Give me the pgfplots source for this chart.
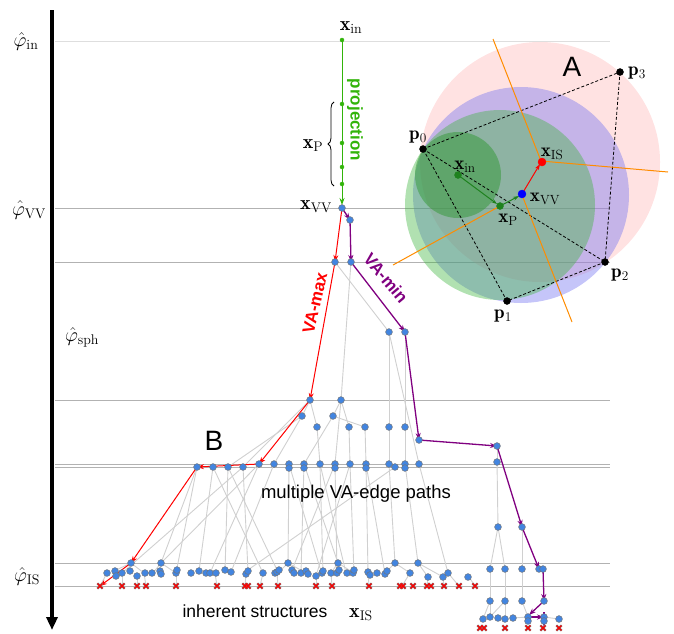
\RequirePackage{fix-cm}
\documentclass[border=0pt]{standalone}
\usepackage{pgfplots}
\pgfplotsset{compat=1.18}
\usepackage{fontspec}
\setsansfont{Liberation Sans}
\usetikzlibrary{arrows.meta,decorations.pathreplacing}
\definecolor{nodeblue}{RGB}{66,133,224}
\definecolor{edgegray}{RGB}{208,208,208}
\definecolor{hline}{RGB}{178,178,178}
\definecolor{vamin}{RGB}{128,0,128}
\definecolor{projgreen}{RGB}{50,180,10}
\definecolor{orng}{RGB}{255,140,0}
\definecolor{pinkc}{RGB}{255,160,160}
\definecolor{bluec}{RGB}{110,110,240}
\definecolor{greenc}{RGB}{60,180,60}
\definecolor{dgreenc}{RGB}{40,150,40}
\definecolor{ptgreen}{RGB}{30,130,30}
\newcommand{\e}[4]{\addplot[edgegray, line width=0.9pt] coordinates {(#1,#2)(#3,#4)};}
\newcommand{\ra}[4]{\addplot[red, line width=1pt, -{Stealth[length=7pt,width=5pt]}] coordinates {(#1,#2)(#3,#4)};}
\newcommand{\pa}[4]{\addplot[vamin, line width=1.3pt, -{Stealth[length=7pt,width=5pt]}] coordinates {(#1,#2)(#3,#4)};}
\newcommand{\hl}[2]{\addplot[#2, line width=1pt] coordinates {(55,#1)(610,#1)};}
\newcommand{\dl}[4]{\addplot[black, line width=0.8pt, dash pattern=on 3pt off 2pt] coordinates {(#1,#2)(#3,#4)};}
\newcommand{\ol}[4]{\addplot[orng, line width=1pt] coordinates {(#1,#2)(#3,#4)};}
\pgfplotsset{base/.style={x=1pt, y=1pt, y dir=reverse, xmin=0, xmax=674, ymin=0, ymax=633,
  hide axis, clip=false, at={(0,0)}, anchor=south west}}
\begin{document}
\begin{tikzpicture}
% ---------- layer 1: level lines and inset circles ----------
\begin{axis}[base]
\addplot[draw=none] coordinates {(0,0)(674,633)};
\hl{41}{black!13}
\hl{208}{hline}
\hl{262}{hline}
\hl{400}{hline}
\hl{464}{hline}
\hl{467}{hline}
\hl{563}{hline}
\hl{586}{hline}
\addplot[only marks, mark=*, mark size=120pt, mark options={fill=pinkc, fill opacity=0.3, draw opacity=0}] coordinates {(540,162)};
\addplot[only marks, mark=*, mark size=108pt, mark options={fill=bluec, fill opacity=0.4, draw opacity=0}] coordinates {(521,195)};
\addplot[only marks, mark=*, mark size=95pt, mark options={fill=greenc, fill opacity=0.4, draw opacity=0}] coordinates {(500,205)};
\addplot[only marks, mark=*, mark size=43pt, mark options={fill=dgreenc, fill opacity=0.45, draw opacity=0}] coordinates {(458,175)};
\end{axis}
% ---------- layer 2: everything else ----------
\begin{axis}[base]
\addplot[draw=none] coordinates {(0,0)(674,633)};
% dashed quadrilateral
\dl{423}{149}{620}{72}
\dl{620}{72}{605}{262}
\dl{605}{262}{507}{301}
\dl{507}{301}{423}{149}
\dl{423}{149}{605}{262}
% orange lines
\ol{493}{39}{541}{161}
\ol{541}{161}{668}{172}
\ol{522}{195}{572}{322}
\ol{500}{206}{393}{265}
% inset arrows
\addplot[ptgreen, line width=1pt, -{Stealth[length=6pt,width=4pt]}] coordinates {(458,175)(497,204)};
\addplot[ptgreen, line width=1pt, -{Stealth[length=6pt,width=4pt]}] coordinates {(500,206)(519,196)};
\addplot[red, line width=1pt, -{Stealth[length=6pt,width=4pt]}] coordinates {(522,194)(540,164)};
\addplot[only marks, mark=*, mark size=3.5pt, mark options={fill=black, draw=black}] coordinates {(423,149)(507,301)(605,262)(620,72)};
\addplot[only marks, mark=*, mark size=3.5pt, mark options={fill=ptgreen, draw=ptgreen}] coordinates {(458,175)(500,206)};
\addplot[only marks, mark=*, mark size=4pt, mark options={fill=blue, draw=blue}] coordinates {(522,194)};
\addplot[only marks, mark=*, mark size=4pt, mark options={fill=red, draw=red}] coordinates {(542,162)};
% left axis arrow
\addplot[black, line width=3.5pt, -{Triangle[length=13pt,width=11pt]}] coordinates {(52,10)(52,630)};
% projection
\addplot[projgreen, line width=1pt, -{Stealth[length=7pt,width=5pt]}] coordinates {(342,40)(342,205)};
\addplot[only marks, mark=*, mark size=2pt, mark options={fill=projgreen, draw=projgreen}] coordinates {(342,40)(342,104)(342,143)(342,167)(342,184)};
% gray tree edges
\e{342}{208}{350}{220}
\e{335}{262}{389}{332}
\e{351}{262}{341}{400}
\e{389}{332}{389}{427}
\e{405}{332}{405}{427}
\e{389}{332}{419}{464}
\e{310}{400}{302}{416}
\e{310}{400}{317}{427}
\e{310}{400}{243}{467}
\e{341}{400}{333}{416}
\e{341}{400}{349}{427}
\e{341}{400}{335}{464}
\e{302}{416}{274}{464}
\e{302}{416}{228}{467}
\e{333}{416}{365}{427}
\e{333}{416}{304}{464}
\e{317}{427}{320}{464}
\e{349}{427}{350}{464}
\e{365}{427}{366}{464}
\e{389}{427}{389}{464}
\e{405}{427}{405}{464}
\e{497}{446}{497}{462}
\e{497}{462}{498}{527}
\e{197}{467}{161}{563}
\e{197}{467}{176}{573}
\e{213}{467}{199}{571}
\e{213}{467}{263}{573}
\e{228}{467}{225}{571}
\e{228}{467}{278}{572}
\e{243}{467}{248}{571}
\e{243}{467}{122}{573}
\e{259}{464}{161}{563}
\e{259}{464}{210}{573}
\e{274}{464}{231}{572}
\e{289}{464}{288}{563}
\e{289}{464}{320}{568}
\e{304}{464}{338}{563}
\e{304}{464}{301}{573}
\e{320}{464}{323}{573}
\e{320}{464}{346}{573}
\e{335}{464}{337}{573}
\e{335}{464}{292}{570}
\e{350}{464}{354}{573}
\e{350}{464}{316}{576}
\e{366}{464}{368}{572}
\e{366}{464}{385}{574}
\e{389}{464}{395}{563}
\e{395}{467}{245}{572}
\e{405}{464}{418}{563}
\e{419}{464}{448}{573}
\e{498}{527}{490}{569}
\e{498}{527}{505}{569}
\e{522}{527}{522}{569}
\e{490}{569}{490}{601}
\e{505}{569}{505}{601}
\e{522}{569}{522}{601}
\e{490}{601}{490}{617}
\e{505}{601}{490}{617}
\e{505}{601}{505}{619}
\e{522}{601}{528}{617}
\e{490}{601}{483}{619}
\e{513}{618}{528}{617}
\e{544}{617}{559}{619}
\e{131}{563}{114}{571}
\e{131}{563}{144}{573}
\e{161}{563}{153}{573}
\e{161}{563}{176}{573}
\e{288}{563}{279}{572}
\e{288}{563}{306}{573}
\e{338}{563}{331}{573}
\e{338}{563}{354}{573}
\e{395}{563}{387}{571}
\e{395}{563}{410}{573}
\e{418}{563}{428}{577}
\e{418}{563}{443}{577}
\e{107}{573}{100}{586}
\e{122}{573}{122}{586}
\e{137}{576}{137}{586}
\e{144}{573}{146}{586}
\e{176}{576}{176}{586}
\e{215}{573}{217}{586}
\e{246}{574}{245}{586}
\e{263}{573}{260}{586}
\e{277}{572}{278}{586}
\e{316}{576}{316}{586}
\e{331}{573}{332}{586}
\e{368}{572}{369}{586}
\e{410}{573}{402}{586}
\e{428}{577}{427}{586}
\e{443}{577}{444}{586}
\e{448}{573}{459}{586}
\e{469}{577}{475}{586}
% VA-max path (red)
\ra{342}{208}{335}{262}
\ra{335}{262}{310}{400}
\ra{310}{400}{259}{464}
\ra{259}{464}{197}{467}
\ra{197}{467}{131}{563}
\ra{131}{563}{100}{586}
% VA-min path (purple)
\pa{342}{208}{350}{220}
\pa{350}{220}{351}{262}
\pa{351}{262}{405}{332}
\pa{405}{332}{419}{440}
\pa{419}{440}{497}{446}
\pa{497}{446}{522}{527}
\pa{522}{527}{539}{569}
\pa{543}{569}{544}{601}
\pa{544}{601}{529}{615}
\pa{530}{617}{544}{617}
\pa{544}{612}{544}{627}
% X markers (inherent structures)
\addplot[only marks, mark=x, mark size=3.8pt, mark options={draw=gray, line width=2.2pt}] coordinates {
(100,586)(122,586)(137,586)(146,586)(176,586)(217,586)(245,586)(248,586)(260,586)(278,586)
(316,586)(332,586)(369,586)(400,586)(403,586)(413,586)(427,586)(431,586)(444,586)(459,586)(475,586)
(480,628)(484,628)(505,628)(528,628)(543,628)(559,628)};
\addplot[only marks, mark=x, mark size=3.4pt, mark options={draw=red, line width=1.2pt}] coordinates {
(100,586)(122,586)(137,586)(146,586)(176,586)(217,586)(245,586)(248,586)(260,586)(278,586)
(316,586)(332,586)(369,586)(400,586)(403,586)(413,586)(427,586)(431,586)(444,586)(459,586)(475,586)
(480,628)(484,628)(505,628)(528,628)(543,628)(559,628)};
% blue nodes
\addplot[only marks, mark=*, mark size=3.4pt, mark options={fill=nodeblue, draw=black!55, line width=0.5pt}] coordinates {
(342,208)(350,220)(335,262)(351,262)(389,332)(405,332)(310,400)(341,400)
(302,416)(333,416)(317,427)(349,427)(365,427)(389,427)(405,427)(419,440)(497,446)
(197,467)(213,467)(228,467)(243,467)(259,464)(274,464)(289,464)(289,468)(304,464)(304,468)
(320,464)(335,464)(335,468)(350,464)(366,464)(366,468)(389,464)(395,467)(405,464)(405,468)(419,464)(497,462)
(131,563)(161,563)(288,563)(338,563)(395,563)(418,563)
(498,527)(522,527)(490,569)(505,569)(522,569)(539,569)(543,569)(490,601)(505,601)(522,601)(544,601)
(483,619)(490,617)(498,618)(505,619)(513,618)(528,617)(528,621)(544,617)(544,621)(559,619)
(107,573)(115,571)(116,576)(122,573)(130,571)(137,576)(145,573)(152,573)(160,571)(161,574)
(176,573)(177,570)(191,573)(199,571)(206,573)(210,573)(216,573)(225,570)(231,572)(246,574)(248,571)
(263,573)(275,573)(277,572)(279,570)(292,570)(294,573)(301,573)(306,571)(308,574)(316,576)(322,573)
(323,571)(331,573)(337,573)(339,570)(347,573)(353,573)(354,570)(368,572)(370,575)(377,573)
(385,574)(387,571)(410,573)(428,577)(443,577)(448,573)(468,577)};
% label anchors
\coordinate (Lin) at (26,42);
\coordinate (Lvv) at (29,210);
\coordinate (Lsph) at (82,337);
\coordinate (Lis) at (27,576);
\coordinate (Xin) at (351,28);
\coordinate (Xp) at (313,146);
\coordinate (Xvv) at (316,207);
\coordinate (Xis) at (361,615);
\coordinate (Bra) at (334,186);
\coordinate (Brb) at (334,102);
\coordinate (P0) at (418,137);
\coordinate (P1) at (503,316);
\coordinate (P2) at (620,275);
\coordinate (P3) at (637,73);
\coordinate (Iin) at (465,167);
\coordinate (Iis) at (552,154);
\coordinate (Ivv) at (545,199);
\coordinate (Ip) at (508,220);
\coordinate (LA) at (572,67);
\coordinate (LB) at (214,441);
\coordinate (Lproj) at (355,120);
\coordinate (Lmax) at (315,303);
\coordinate (Lmin) at (386,278);
\coordinate (Lmul) at (356,494);
\coordinate (Linh) at (255,611);
\end{axis}
\tikzset{ml/.style={font=\fontsize{20}{24}\selectfont, inner sep=0pt},
         il/.style={font=\fontsize{19}{22}\selectfont, inner sep=0pt}}
\node[ml] at (Lin) {$\hat{\varphi}_{\mathrm{in}}$};
\node[ml] at (Lvv) {$\hat{\varphi}_{\mathrm{VV}}$};
\node[ml] at (Lsph) {$\hat{\varphi}_{\mathrm{sph}}$};
\node[ml] at (Lis) {$\hat{\varphi}_{\mathrm{IS}}$};
\node[ml] at (Xin) {$\mathbf{x}_{\mathrm{in}}$};
\node[ml] at (Xp) {$\mathbf{x}_{\mathrm{P}}$};
\node[ml] at (Xvv) {$\mathbf{x}_{\mathrm{VV}}$};
\node[ml] at (Xis) {$\mathbf{x}_{\mathrm{IS}}$};
\draw[black, line width=0.8pt, decorate, decoration={brace, amplitude=6pt}] (Bra) -- (Brb);
\node[il] at (P0) {$\mathbf{p}_{0}$};
\node[il] at (P1) {$\mathbf{p}_{1}$};
\node[il] at (P2) {$\mathbf{p}_{2}$};
\node[il] at (P3) {$\mathbf{p}_{3}$};
\node[il] at (Iin) {$\mathbf{x}_{\mathrm{in}}$};
\node[il] at (Iis) {$\mathbf{x}_{\mathrm{IS}}$};
\node[il] at (Ivv) {$\mathbf{x}_{\mathrm{VV}}$};
\node[il] at (Ip) {$\mathbf{x}_{\mathrm{P}}$};
\node[font=\sffamily\fontsize{28}{32}\selectfont] at (LA) {A};
\node[font=\sffamily\fontsize{28}{32}\selectfont] at (LB) {B};
\node[font=\sffamily\bfseries\fontsize{17}{20}\selectfont, text=projgreen, rotate=-90] at (Lproj) {projection};
\node[font=\sffamily\bfseries\fontsize{17}{20}\selectfont, text=red, rotate=77] at (Lmax) {VA-max};
\node[font=\sffamily\bfseries\fontsize{17}{20}\selectfont, text=vamin, rotate=-50] at (Lmin) {VA-min};
\node[font=\sffamily\fontsize{18.5}{21}\selectfont] at (Lmul) {multiple VA-edge paths};
\node[font=\sffamily\fontsize{17.5}{20}\selectfont] at (Linh) {inherent structures};
\end{tikzpicture}
\end{document}
